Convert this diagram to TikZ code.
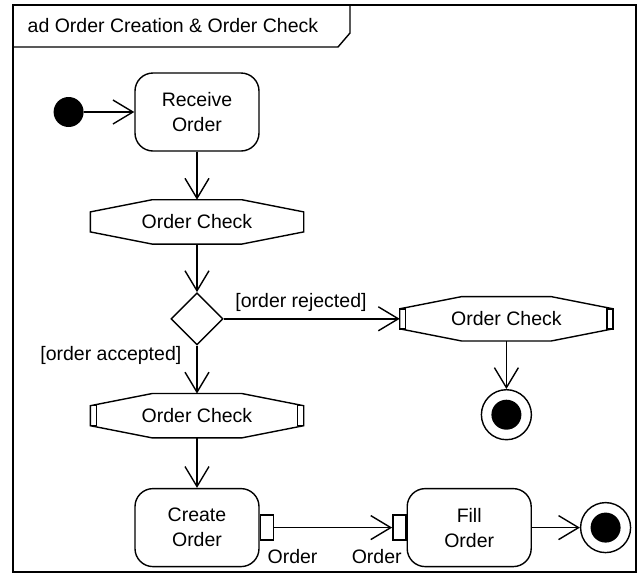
\documentclass[tikz,border=0pt]{standalone}
\usepackage{fontspec}
\setmainfont{Liberation Sans}
\usetikzlibrary{arrows.meta,shapes.geometric,positioning,calc}

\tikzset{
  action/.style={draw,rectangle,rounded corners=9pt,minimum width=62pt,minimum height=39pt,align=center,inner sep=2pt},
  objnode/.style={rectangle,minimum width=106pt,minimum height=21.5pt,inner sep=0pt},
  decision/.style={draw,diamond,minimum width=26pt,minimum height=26pt,inner sep=0pt},
  pinbox/.style={draw,rectangle,fill=white,minimum width=6.5pt,minimum height=12.5pt,inner sep=0pt},
  startnode/.style={circle,fill=black,minimum size=15pt,inner sep=0pt},
  finalnode/.style={circle,draw,minimum size=25pt,inner sep=0pt,
    path picture={\fill (path picture bounding box.center) circle (7.5pt);}},
  flow/.style={-{Straight Barb[length=10pt,width=12pt]}}
}

% octagon-like outline of an object node
\newcommand{\objoutline}[1]{%
  \draw ($(#1.west)+(0,5pt)$) -- ($(#1.north west)+(31pt,0)$) -- ($(#1.north east)-(31pt,0)$)
    -- ($(#1.east)+(0,5pt)$) -- ($(#1.east)-(0,5pt)$) -- ($(#1.south east)-(31pt,0)$)
    -- ($(#1.south west)+(31pt,0)$) -- ($(#1.west)-(0,5pt)$) -- cycle;}
% input/output pins on both sides
\newcommand{\objpins}[1]{%
  \draw (#1.west) +(0,5pt) rectangle +(3pt,-5pt) (#1.east) +(0,5pt) rectangle +(-3pt,-5pt);}

\begin{document}
\begin{tikzpicture}[node distance=24pt,line width=0.7pt,font=\fontsize{9.75}{12.5}\selectfont]
  \useasboundingbox (0,0) rectangle (321.5pt,-287pt);

  % Frame and title tab
  \draw (6.5pt,-2.5pt) rectangle (318pt,-286pt);
  \draw (6.5pt,-23.5pt) -- (169pt,-23.5pt) -- (175pt,-16.5pt) -- (175pt,-2.5pt);
  \node[anchor=west,inner sep=0pt] (title) at (13.5pt,-13pt) {ad Order Creation \& Order Check};

  % Main flow
  \node[action] (recv) at (98.5pt,-56pt) {Receive\\Order};
  \node[startnode,left=25pt of recv] (start) {};
  \node[objnode,below=of recv] (check) {Order Check};
  \node[decision,below=of check] (decide) {};
  \node[objnode,below=of decide] (checkyes) {Order Check};
  \node[action,below=25pt of checkyes] (create) {Create\\Order};
  \node[pinbox,right=0pt of create] (createpin) {};
  \node[pinbox,right=59pt of createpin] (fillpin) {};
  \node[action,right=0pt of fillpin] (fill) {Fill\\Order};
  \node[finalnode,right=of fill] (endfill) {};

  % Rejected branch
  \node[objnode,right=88pt of decide] (checkno) {Order Check};
  \node[finalnode,below=of checkno] (endno) {};

  \objoutline{check}
  \objoutline{checkyes}
  \objpins{checkyes}
  \objoutline{checkno}
  \objpins{checkno}

  % Connectors
  \draw[flow] (start) -- (recv);
  \draw[flow] (recv) -- (check);
  \draw[flow] (check) -- (decide);
  \draw[flow] (decide) -- (checkno);
  \draw[flow] (decide) -- (checkyes);
  \draw[flow] (checkno) -- (endno);
  \draw[flow] (checkyes) -- (create);
  \draw[flow] (createpin) -- (fillpin);
  \draw[flow] (fill) -- (endfill);

  % Labels
  \node[above right=3.5pt and 5.5pt of decide.east,inner sep=0pt] (rejlabel) {[order rejected]};
  \node[below left=0pt and 7.5pt of decide.south,inner sep=0pt] (acclabel) {[order accepted]};
  \node[below right=4pt and 0pt of createpin.south,inner sep=0pt] (outlabel) {Order};
  \node[below left=4pt and -1.5pt of fillpin.south,inner sep=0pt] (inlabel) {Order};
\end{tikzpicture}
\end{document}
